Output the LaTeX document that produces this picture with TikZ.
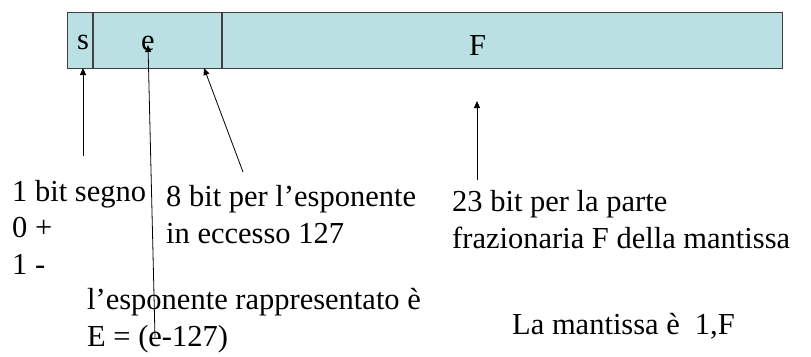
\documentclass[tikz,border=0pt]{standalone}
\usepackage{fontspec}
\setmainfont{Liberation Serif}
\usetikzlibrary{arrows.meta}
\definecolor{celeste}{RGB}{187,224,227}
\definecolor{bordo}{RGB}{64,64,64}

\begin{document}
\begin{tikzpicture}[x=1pt,y=-1pt,
  campo/.style={draw=bordo,fill=celeste,line width=1pt,minimum height=56pt,inner sep=0,anchor=north west},
  testo/.style={anchor=base west,inner sep=0,align=left,font=\fontsize{30.5}{36.5}\selectfont},
  freccia/.style={-{Triangle[length=7pt,width=6pt]},line width=.8pt}]
\useasboundingbox (0,0) rectangle (811,356);
% i tre campi: segno, esponente, frazione
\node[campo,minimum width=25pt] (cs) at (67,12) {};
\node[campo,minimum width=128pt] (ce) at (cs.north east) {};
\node[campo,minimum width=560pt] (cf) at (ce.north east) {};
\node[testo] (ls) at (77,49) {s};
\node[testo] (le) at (141,50) {e};
\node[testo] (lf) at (469,55) {F};
% didascalie (base = ultima riga)
\node[testo] (segno) at (12,274) {1 bit segno\\0 +\\1 -};
\node[testo] (esp) at (166,243) {8 bit per l’esponente\\in eccesso 127};
\node[testo] (fraz) at (452,248) {23 bit per la parte\\frazionaria F della mantissa};
\node[testo] (rappr) at (87,346) {l’esponente rappresentato è\\E = (e-127)};
\node[testo] (mant) at (512,334) {La mantissa è\hspace{15pt}1,F};
% estremi delle frecce
\coordinate (ps) at (83,156);
\coordinate (ts) at (83,68);
\coordinate (pe) at (155,337);
\coordinate (te) at (148,45);
\coordinate (px) at (243,172);
\coordinate (tx) at (204,68);
\coordinate (pf) at (477,180);
\coordinate (tf) at (477,101);
\foreach \a/\b in {ps/ts,pe/te,px/tx,pf/tf}
  \draw[freccia] (\a) -- (\b);
\end{tikzpicture}
\end{document}
